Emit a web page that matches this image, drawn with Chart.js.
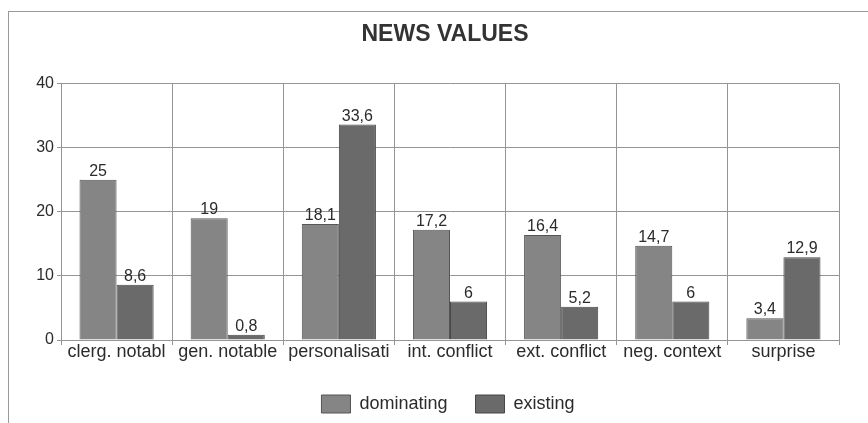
<!DOCTYPE html>
<html>
<head>
<meta charset="utf-8">
<script src="https://cdn.jsdelivr.net/npm/chart.js@4/dist/chart.umd.min.js"></script>
<style>
  html, body { margin: 0; padding: 0; background: #fff; overflow: hidden; }
  #frame { position: absolute; left: 8px; top: 11px; width: 880px; height: 440px;
           border-left: 1px solid #9a9a9a; border-top: 1px solid #9a9a9a; }
  #wrap { position: absolute; left: 0; top: 0; width: 868px; height: 423px; }
</style>
</head>
<body>
<div id="frame"></div>
<div id="wrap"><canvas id="chart" width="868" height="423"></canvas></div>
<script>
// News values coded in the articles (percent)
const categories = ['clerg. notabl', 'gen. notable', 'personalisati', 'int. conflict',
                    'ext. conflict', 'neg. context', 'surprise'];
const dominating = [25, 19, 18.1, 17.2, 16.4, 14.7, 3.4];
const existing = [8.6, 0.8, 33.6, 6, 5.2, 6, 12.9];
const yTicks = [0, 10, 20, 30, 40];

const FONT = '"Liberation Sans", Arial, sans-serif';
const INK = '#2b2b2b';
const GRID = '#959595';

// Writes each bar's value above it, with a decimal comma
const valueLabels = {
  id: 'valueLabels',
  afterDatasetsDraw(chart) {
    const ctx = chart.ctx;
    ctx.save();
    ctx.font = '16px ' + FONT;
    ctx.fillStyle = INK;
    ctx.textAlign = 'center';
    ctx.textBaseline = 'alphabetic';
    chart.data.datasets.forEach((ds, di) => {
      chart.getDatasetMeta(di).data.forEach((bar, i) => {
        const txt = String(ds.data[i]).replace('.', ',');
        ctx.fillText(txt, bar.x, bar.y - 4);
      });
    });
    ctx.restore();
  }
};

// Centres the title and legend over the plot area rather than the whole canvas
const centreOverPlot = {
  id: 'centreOverPlot',
  afterLayout(chart) {
    const mid = (chart.chartArea.left + chart.chartArea.right) / 2;
    const move = (box, target) => {
      if (!box) return;
      const d = target - (box.left + box.right) / 2;
      box.left += d;
      box.right += d;
    };
    move(chart.titleBlock, mid - 5);
    move(chart.legend, mid - 2);
  }
};

new Chart(document.getElementById('chart'), {
  type: 'bar',
  data: {
    labels: categories,
    datasets: [
      { label: 'dominating', data: dominating, backgroundColor: '#858585',
        borderColor: '#555555', borderWidth: 1 },
      { label: 'existing', data: existing, backgroundColor: '#6a6a6a',
        borderColor: '#474747', borderWidth: 1 }
    ]
  },
  options: {
    responsive: false,
    animation: false,
    devicePixelRatio: 1,
    layout: { padding: { left: 8, right: 29, top: 0, bottom: 0 } },
    datasets: { bar: { categoryPercentage: 0.667, barPercentage: 1.0 } },
    scales: {
      x: {
        grid: { offset: true, color: GRID, lineWidth: 1, tickLength: 5, tickColor: GRID },
        border: { color: GRID },
        ticks: { color: INK, font: { family: FONT, size: 18 }, padding: -4,
                 autoSkip: false, maxRotation: 0, minRotation: 0 },
        afterFit(scale) { scale.height = 27; }
      },
      y: {
        min: 0, max: 40,
        afterBuildTicks(scale) { scale.ticks = yTicks.map(v => ({ value: v })); },
        grid: { color: GRID, lineWidth: 1, tickLength: 4, tickColor: GRID },
        border: { color: GRID },
        ticks: { color: INK, font: { family: FONT, size: 16 }, padding: 3 },
        afterFit(scale) { scale.width = 53; }
      }
    },
    plugins: {
      title: {
        display: true, text: 'NEWS VALUES', color: '#333333',
        font: { family: FONT, size: 23, weight: 'bold' },
        padding: { top: 21, bottom: 35 }
      },
      legend: {
        position: 'bottom',
        labels: { color: INK, font: { family: FONT, size: 18 },
                  boxWidth: 29, boxHeight: 18, padding: 28 }
      },
      tooltip: { enabled: false }
    }
  },
  plugins: [valueLabels, centreOverPlot]
});
</script>
</body>
</html>
